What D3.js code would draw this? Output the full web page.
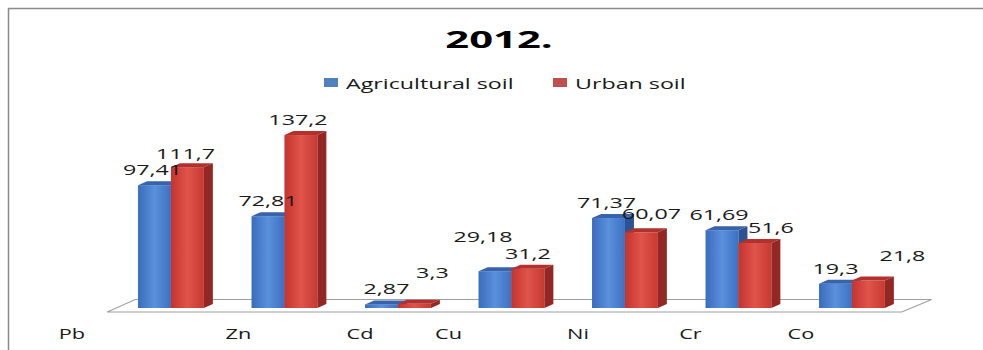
<!DOCTYPE html>
<html>
<head>
<meta charset="utf-8">
<script src="https://cdn.jsdelivr.net/npm/d3@7"></script>
<style>
  body { margin: 0; background: #fff; }
  svg { display: block; }
  text { font-family: 'Open Sans', sans-serif; fill: #1a1a1a; }
</style>
</head>
<body>
<div id="chart"></div>
<script>
// Data
const categories = ["Pb", "Zn", "Cd", "Cu", "Ni", "Cr", "Co"];
const seriesNames = ["Agricultural soil", "Urban soil"];
const agricultural = [97.41, 72.81, 2.87, 29.18, 71.37, 61.69, 19.3];
const urban = [111.7, 137.2, 3.3, 31.2, 60.07, 51.6, 21.8];

// Layout
const width = 983, height = 350;
const depth = { dx: 9, dy: -4 };
const stretch = { title: 1.74, legend: 1.55, value: 1.55, axis: 1.45 };
// Excel placed the category labels and some value labels off-centre
const axisNudge = [-99, -46, -38, -63, -47, -48, -51];
const valueNudge = {
  "Agricultural soil": [[-2, 0], [0, 0], [5, 0], [-12, -19], [-2, 0], [-3, 0], [0, 0]],
  "Urban soil": [[-2, 2], [-3, 0], [18, -16], [0, 0], [10, -3], [16, 0], [34, -10]]
};
const colors = {
  "Agricultural soil": { front: ["#3a6cbd", "#5a90dc", "#3d70c2"], top: "#3763ad", side: "#2b5394", legend: "#4f81bd" },
  "Urban soil": { front: ["#c5332e", "#df544b", "#c83831"], top: "#b3302c", side: "#922724", legend: "#c0504d" }
};

const svg = d3.select("#chart").append("svg")
  .attr("width", width)
  .attr("height", height);

svg.append("rect").attr("width", width).attr("height", height).attr("fill", "#fff");

// Gradients for front faces
const defs = svg.append("defs");
seriesNames.forEach((s, i) => {
  const g = defs.append("linearGradient")
    .attr("id", "grad" + i)
    .attr("x1", 0).attr("x2", 1).attr("y1", 0).attr("y2", 0);
  colors[s].front.forEach((c, j) => {
    g.append("stop").attr("offset", j / 2).attr("stop-color", c);
  });
});

// Frame
svg.append("line").attr("x1", 8).attr("x2", width).attr("y1", 8.5).attr("y2", 8.5)
  .attr("stroke", "#8a8a8a").attr("stroke-width", 1.5);
svg.append("line").attr("x1", 8.5).attr("x2", 8.5).attr("y1", 8).attr("y2", height)
  .attr("stroke", "#8a8a8a").attr("stroke-width", 1.5);

// Title
svg.append("text")
  .attr("transform", `translate(499,48) scale(${stretch.title},1)`)
  .attr("text-anchor", "middle")
  .style("font-size", "24px")
  .style("font-weight", "bold")
  .style("fill", "#000")
  .text("2012.");

// Legend
const legendX = [324, 553];
const legend = svg.append("g").selectAll("g")
  .data(seriesNames)
  .join("g")
  .attr("transform", (d, i) => `translate(${legendX[i]},0)`);
legend.append("rect")
  .attr("x", 0).attr("y", 78).attr("width", 14).attr("height", 9)
  .attr("fill", d => colors[d].legend);
legend.append("text")
  .attr("transform", `translate(22,89) scale(${stretch.legend},1)`)
  .style("font-size", "15px")
  .text(d => d);

// Scales
const x = d3.scaleBand()
  .domain(categories)
  .range([114.2, 908.7])
  .paddingInner(0.42)
  .paddingOuter(0.21);

const xs = d3.scaleBand()
  .domain(seriesNames)
  .range([0, x.bandwidth()]);

const y = d3.scaleLinear()
  .domain([0, 140])
  .range([308, 131.5]);

// Floor
const [r0, r1] = x.range();
const floorY = y(0) + 4;
const floor = [
  [r0 - 7, floorY], [r1 - 7, floorY],
  [r1 + 23, floorY - 12.5], [r0 + 21, floorY - 12.5]
];
svg.append("polygon")
  .attr("points", floor.map(p => p.join(",")).join(" "))
  .attr("fill", "#fff")
  .attr("stroke", "#a0a0a0")
  .attr("stroke-width", 1.2);

// Bars
const bars = [];
categories.forEach((c, i) => {
  bars.push({ cat: c, i, series: seriesNames[0], value: agricultural[i] });
  bars.push({ cat: c, i, series: seriesNames[1], value: urban[i] });
});

const w = xs.bandwidth();
const bar = svg.append("g").selectAll("g")
  .data(bars)
  .join("g");

bar.append("rect")
  .attr("x", d => x(d.cat) + xs(d.series))
  .attr("y", d => y(d.value))
  .attr("width", w)
  .attr("height", d => y(0) - y(d.value))
  .attr("fill", d => `url(#grad${seriesNames.indexOf(d.series)})`);

bar.append("polygon")
  .attr("points", d => {
    const x0 = x(d.cat) + xs(d.series), t = y(d.value);
    return [[x0, t], [x0 + w, t], [x0 + w + depth.dx, t + depth.dy], [x0 + depth.dx, t + depth.dy]]
      .map(p => p.join(",")).join(" ");
  })
  .attr("fill", d => colors[d.series].top);

bar.append("polygon")
  .attr("points", d => {
    const x1 = x(d.cat) + xs(d.series) + w, t = y(d.value), b = y(0);
    return [[x1, t], [x1 + depth.dx, t + depth.dy], [x1 + depth.dx, b + depth.dy], [x1, b]]
      .map(p => p.join(",")).join(" ");
  })
  .attr("fill", d => colors[d.series].side);

// Value labels
svg.append("g").selectAll("text")
  .data(bars)
  .join("text")
  .attr("transform", d => {
    const n = valueNudge[d.series][d.i];
    const cx = x(d.cat) + xs(d.series) + w / 2 + n[0];
    const cy = y(d.value) - 10 + n[1];
    return `translate(${cx},${cy}) scale(${stretch.value},1)`;
  })
  .attr("text-anchor", "middle")
  .style("font-size", "15px")
  .text(d => String(d.value).replace(".", ","));

// Category axis
const axis = svg.append("g")
  .attr("transform", "translate(0,328)")
  .call(d3.axisBottom(x).tickSize(0).tickPadding(0));
axis.select(".domain").remove();
axis.selectAll("text")
  .attr("transform", (d, i) => `translate(${axisNudge[i]},0) scale(${stretch.axis},1)`)
  .style("font-size", "15px")
  .style("font-family", "'Open Sans', sans-serif")
  .attr("fill", "#1a1a1a");
</script>
</body>
</html>
